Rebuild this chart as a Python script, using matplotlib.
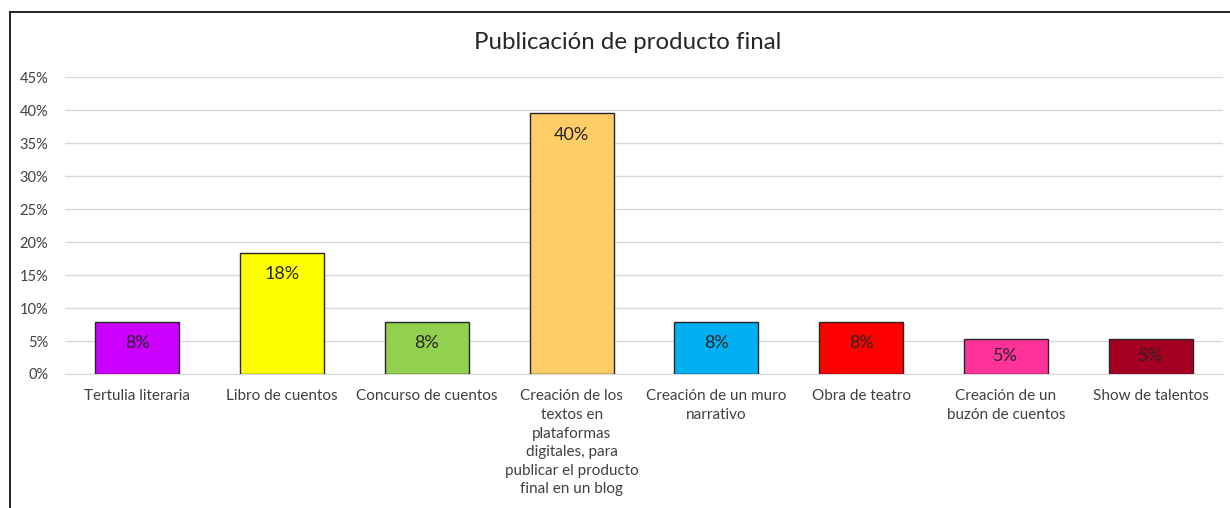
import numpy as np
import matplotlib.pyplot as plt
from matplotlib.lines import Line2D

# data
categorias = ['Tertulia literaria', 'Libro de cuentos', 'Concurso de cuentos',
              'Creación de los\ntextos en\nplataformas\ndigitales, para\npublicar el producto\nfinal en un blog',
              'Creación de un muro\nnarrativo', 'Obra de teatro',
              'Creación de un\nbuzón de cuentos', 'Show de talentos']
valores = [0.079, 0.184, 0.079, 0.395, 0.079, 0.079, 0.053, 0.053]
etiquetas = ['8%', '18%', '8%', '40%', '8%', '8%', '5%', '5%']
colores = ['#CC00FF', '#FFFF00', '#92D050', '#FFCC66',
           '#00B0F0', '#FF0000', '#FF3399', '#A50021']

plt.rcParams['font.family'] = ['Lato', 'DejaVu Sans']

fig = plt.figure(figsize=(12.3, 5.08), dpi=100)
ax = fig.add_axes([0.0528, 0.2638, 0.9415, 0.5842])

x = np.arange(len(categorias))
bars = ax.bar(x, valores, width=0.58, color=colores, edgecolor='#262626',
              linewidth=1.0, zorder=3)

for b, t in zip(bars, etiquetas):
    # short bars get their label pushed a bit less (like excel does)
    off = -12 if b.get_height() < 0.06 else -15.5
    ax.annotate(t, (b.get_x() + b.get_width() / 2, b.get_height()),
                xytext=(0, off), textcoords='offset points',
                ha='center', va='center', fontsize=13, color='#262626', zorder=4)

ax.set_xlim(-0.5, len(categorias) - 0.5)
ax.set_ylim(0, 0.45)
ax.set_yticks(np.arange(0, 0.451, 0.05))
ax.set_yticklabels([f'{int(round(v * 100))}%' for v in np.arange(0, 0.451, 0.05)])
ax.set_xticks(x)
ax.set_xticklabels(categorias, fontsize=11, color='#404040', linespacing=1.42)
ax.tick_params(axis='y', labelsize=10.5, labelcolor='#404040', length=0, pad=12)
ax.tick_params(axis='x', length=0, pad=11)
ax.grid(axis='y', color='#D9D9D9', linewidth=1.0, zorder=0)
for s in ['top', 'right', 'left']:
    ax.spines[s].set_visible(False)
ax.spines['bottom'].set_color('#D9D9D9')

fig.text(0.51, 0.917, 'Publicación de producto final', ha='center', va='center',
         fontsize=17.3, color='#262626')

# chart frame (cropped at right and bottom)
fig.add_artist(Line2D([0.0085, 0.0085], [0, 0.976], color='#000000', linewidth=1.2,
                      transform=fig.transFigure))
fig.add_artist(Line2D([0.0085, 1.0], [0.976, 0.976], color='#000000', linewidth=1.2,
                      transform=fig.transFigure))

fig.savefig('out.png', dpi=100)
